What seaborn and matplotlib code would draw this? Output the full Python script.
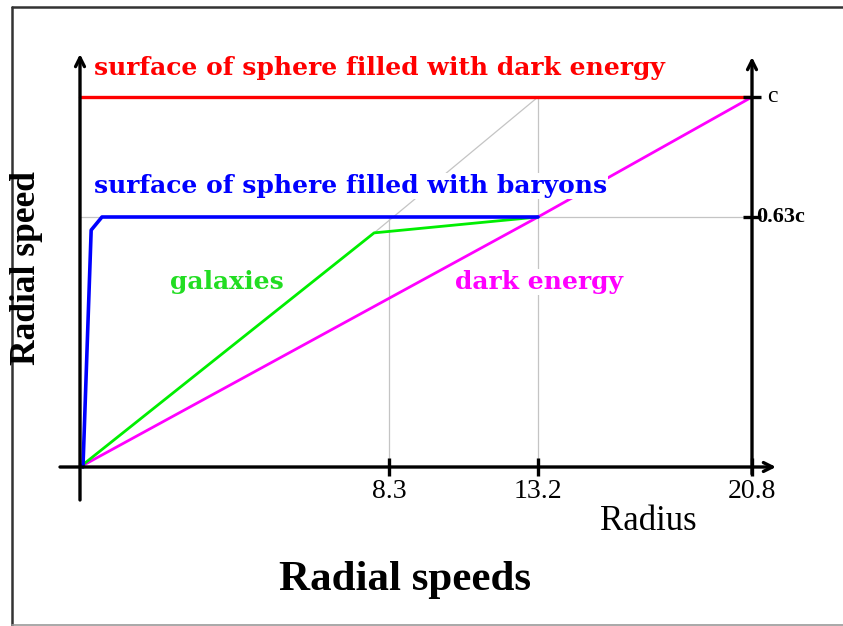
import numpy as np
import pandas as pd
import matplotlib
matplotlib.use("Agg")
import matplotlib.pyplot as plt
from matplotlib.lines import Line2D
import seaborn as sns

# ---- data (radius in the chart's units, speed as fraction of c) ----
radius_ticks = [8.3, 13.2, 20.8]
radius_labels = ["8.3", "13.2", "20.8"]
speed_ticks = [0.63, 1.0]
speed_labels = ["0.63c", "c"]

dark_surface_r = [0.0, 20.8]
dark_surface_v = [1.0, 1.0]
baryon_r = [0.08, 0.30, 0.59, 13.2]
baryon_v = [0.0, 0.597, 0.63, 0.63]
galaxy_r = [0.0, 7.9, 13.2]
galaxy_v = [0.0, 0.59, 0.63]
dark_energy_r = [0.0, 13.2, 20.8]
dark_energy_v = [0.0, 0.63, 1.0]
# grey construction line: galaxies' first slope carried on up to c
guide_r = [7.9, 13.2]
guide_v = [0.59, 1.0]

# ---- layout: the drawing is not to scale, so map values to pixels piecewise ----
W, H = 843, 626
ORIGIN = (80, 467)          # pixel position of (0, 0)
X_KNOTS = [-100, 0, 8.3, 13.2, 20.8, 100]
X_PIX = [-3723, 0, 309, 458, 672, 672 + 79.2 * 28.16]
Y_KNOTS = [-10, 0, 0.63, 1.0, 10]
Y_PIX = [-3968, 0, 250, 370, 370 + 9 * 324.3]


def x_fwd(v):
    return np.interp(v, X_KNOTS, X_PIX)


def x_inv(p):
    return np.interp(p, X_PIX, X_KNOTS)


def y_fwd(v):
    return np.interp(v, Y_KNOTS, Y_PIX)


def y_inv(p):
    return np.interp(p, Y_PIX, Y_KNOTS)


def px_x(x):
    # image pixel column -> radius value
    return float(x_inv(x - ORIGIN[0]))


def px_y(y):
    # image pixel row -> speed value
    return float(y_inv(ORIGIN[1] - y))


def fig_xy(x, y):
    return x / W, 1 - y / H


sns.set_style("white")
plt.rcParams["font.family"] = ["Liberation Serif", "DejaVu Serif"]
plt.rcParams["text.color"] = "black"

fig = plt.figure(figsize=(W / 100, H / 100), dpi=100)
ax = fig.add_axes([0, 0, 1, 1])
ax.set_xscale("function", functions=(x_fwd, x_inv))
ax.set_yscale("function", functions=(y_fwd, y_inv))
ax.set_xlim(px_x(0), px_x(W))
ax.set_ylim(px_y(H), px_y(0))
ax.axis("off")

# grey guide lines
grey = "#c4c4c4"
ax.vlines(radius_ticks[:2], 0, speed_ticks, color=grey, lw=0.9, zorder=1)
ax.hlines(speed_ticks[0], 0, radius_ticks[-1], color=grey, lw=0.9, zorder=1)
sns.lineplot(x=guide_r, y=guide_v, ax=ax, color=grey, lw=0.9, sort=False,
             estimator=None, zorder=1)

# series
series = [
    (dark_surface_r, dark_surface_v, "#ff0000", 2.4),
    (dark_energy_r, dark_energy_v, "#ff00ff", 2.0),
    (galaxy_r, galaxy_v, "#00ee00", 2.0),
    (baryon_r, baryon_v, "#0000ff", 2.6),
]
for r, v, col, lw in series:
    df = pd.DataFrame({"r": r, "v": v})
    sns.lineplot(data=df, x="r", y="v", ax=ax, color=col, lw=lw, sort=False,
                 estimator=None, zorder=2)

# axes drawn by hand, with open arrow heads
arrow = dict(arrowstyle="->", lw=2.4, color="black", mutation_scale=16,
             shrinkA=0, shrinkB=0)
ax.annotate("", xy=(0, px_y(54)), xytext=(0, px_y(500)), arrowprops=arrow, zorder=5)
ax.annotate("", xy=(px_x(776), 0), xytext=(px_x(60), 0), arrowprops=arrow, zorder=5)
ax.annotate("", xy=(radius_ticks[-1], px_y(57)), xytext=(radius_ticks[-1], px_y(474)),
            arrowprops=arrow, zorder=5)

# tick marks and labels
ax.plot(radius_ticks, [0] * len(radius_ticks), ls="none", marker="|", ms=13,
        mew=2.4, color="black", zorder=6)
ax.plot([radius_ticks[-1]] * len(speed_ticks), speed_ticks, ls="none", marker="_",
        ms=13, mew=2.4, color="black", zorder=6)
for r, lab in zip(radius_ticks, radius_labels):
    ax.annotate(lab, (r, 0), xytext=(0, -18), textcoords="offset points",
                ha="center", va="center", fontsize=20)
ax.annotate(speed_labels[1], (radius_ticks[-1], speed_ticks[1]), xytext=(11, 0),
            textcoords="offset points", ha="left", va="center", fontsize=17)
ax.annotate(speed_labels[0], (radius_ticks[-1], speed_ticks[0]), xytext=(3, 0),
            textcoords="offset points", ha="left", va="center", fontsize=16,
            fontweight="bold")

# coloured captions (white box hides the guide lines beneath)
box = dict(facecolor="white", edgecolor="none", pad=0.5)
captions = [
    ("surface of sphere filled with dark energy", 94, 68, "#ff0000"),
    ("surface of sphere filled with baryons", 94, 186, "#0000ff"),
    ("galaxies", 170, 282, "#22dd22"),
    ("dark energy", 455, 282, "#ff00ff"),
]
for txt, x, y, col in captions:
    fig.text(*fig_xy(x, y), txt, color=col, fontsize=18, fontweight="bold",
             family=["DejaVu Serif"], ha="left", va="center", bbox=box, zorder=4)

fig.text(*fig_xy(27, 268), "Radial speed", rotation=90, fontsize=25.5,
         fontweight="bold", ha="center", va="center")
fig.text(*fig_xy(405, 580), "Radial speeds", fontsize=31, fontweight="bold",
         ha="center", va="center")
fig.text(*fig_xy(648, 521), "Radius", fontsize=25, ha="center", va="center")

# picture frame
fig.add_artist(Line2D([12 / W, 12 / W], [0.0, 1 - 7 / H], color="#333333", lw=1.8))
fig.add_artist(Line2D([12 / W, 1.0], [1 - 7 / H, 1 - 7 / H], color="#333333", lw=1.8))
fig.add_artist(Line2D([12 / W, 1.0], [0.8 / H, 0.8 / H], color="#999999", lw=1.2))

fig.savefig("out.png", dpi=100)
